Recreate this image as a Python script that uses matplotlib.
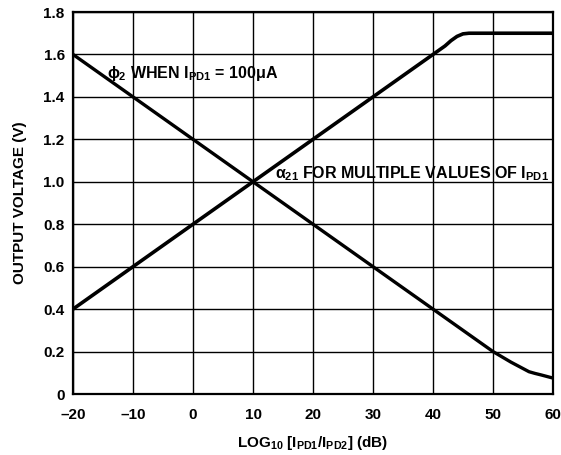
import matplotlib
matplotlib.use("Agg")
import matplotlib.pyplot as plt

# Data
alpha_x = [-20, -10, 0, 10, 20, 30, 40, 42, 43, 44, 45, 46, 50, 60]
alpha_y = [0.40, 0.60, 0.80, 1.00, 1.20, 1.40, 1.60, 1.64, 1.665, 1.685, 1.697, 1.70, 1.70, 1.70]
phi_x = [-20, -10, 0, 10, 20, 30, 40, 45, 50, 53, 55, 56, 57, 58, 60]
phi_y = [1.60, 1.40, 1.20, 1.00, 0.80, 0.60, 0.40, 0.30, 0.20, 0.15, 0.12, 0.105, 0.097, 0.09, 0.075]
x_ticks = [-20, -10, 0, 10, 20, 30, 40, 50, 60]
x_tick_labels = ["\u201320", "\u201310", "0", "10", "20", "30", "40", "50", "60"]
y_ticks = [0, 0.2, 0.4, 0.6, 0.8, 1.0, 1.2, 1.4, 1.6, 1.8]
y_tick_labels = ["0", "0.2", "0.4", "0.6", "0.8", "1.0", "1.2", "1.4", "1.6", "1.8"]

plt.rcParams['font.family'] = ['Liberation Sans', 'DejaVu Sans']
plt.rcParams['font.weight'] = 'bold'
plt.rcParams['mathtext.fontset'] = 'custom'
plt.rcParams['mathtext.rm'] = 'Liberation Sans:bold'
plt.rcParams['mathtext.it'] = 'Liberation Sans:bold'
plt.rcParams['mathtext.bf'] = 'Liberation Sans:bold'
plt.rcParams['mathtext.sf'] = 'Liberation Sans:bold'

fig = plt.figure(figsize=(5.61, 4.55), dpi=100)
ax = fig.add_axes([73/561, 1-394/455, 480/561, 382/455])

ax.plot(alpha_x, alpha_y, color='black', lw=2.6, solid_capstyle='butt', zorder=3)
ax.plot(phi_x, phi_y, color='black', lw=2.4, solid_capstyle='butt', zorder=3)

ax.set_xlim(-20, 60)
ax.set_ylim(0, 1.8)
ax.set_xticks(x_ticks)
ax.set_xticklabels(x_tick_labels)
ax.set_yticks(y_ticks)
ax.set_yticklabels(y_tick_labels)
ax.tick_params(length=0, labelsize=11)
ax.tick_params(axis='x', pad=10)
ax.tick_params(axis='y', pad=6)
for lab in ax.get_xticklabels() + ax.get_yticklabels():
    lab.set_fontweight('bold')
ax.grid(True, color='black', lw=1.0)
for s in ax.spines.values():
    s.set_linewidth(1.6)

ax.text(-14.3, 1.49, r'$\phi_2$ WHEN I$_\mathrm{PD1}$ = 100$\mu$A', fontsize=11.5,
        fontweight='bold', va='baseline', ha='left')
ax.text(13.7, 1.015, r'$\alpha_{21}$ FOR MULTIPLE VALUES OF I$_\mathrm{PD1}$', fontsize=11.5,
        fontweight='bold', va='baseline', ha='left', clip_on=False)

ax.set_xlabel(r'LOG$_{10}$ [I$_\mathrm{PD1}$/I$_\mathrm{PD2}$] (dB)', fontsize=11,
              fontweight='bold', labelpad=9)
ax.set_ylabel('OUTPUT VOLTAGE (V)', fontsize=11, fontweight='bold', labelpad=12)

fig.savefig('out.png', dpi=100)
